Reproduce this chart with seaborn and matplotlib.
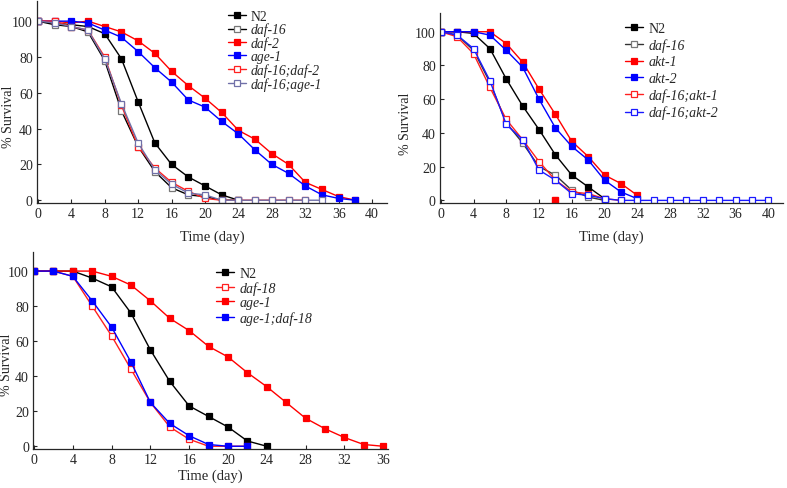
import pandas as pd
import numpy as np
import matplotlib
matplotlib.use("Agg")
import matplotlib.pyplot as plt
import seaborn as sns

# panel A
a_days = [0, 2, 4, 6, 8, 10, 12, 14, 16, 18, 20, 22, 24, 26, 28, 30, 32, 34, 36, 38]
a_n2 = [100, 99, 98, 97, 93, 79, 55, 32, 20, 13, 8, 3, 0]
a_daf16 = [100, 98, 97, 94, 78, 50, 30, 16, 7, 3, 2, 0, 0]
a_daf2 = [100, 100, 99, 100, 97, 94, 89, 82, 72, 64, 57, 49, 39, 34, 26, 20, 10, 6, 2, 0]
a_age1 = [100, 100, 100, 99, 95, 91, 83, 74, 66, 56, 52, 44, 37, 28, 20, 15, 8, 3, 1, 0]
a_daf16_daf2 = [100, 100, 97, 95, 80, 53, 30, 18, 10, 5, 1, 0, 0, 0, 0, 0, 0]
a_daf16_age1 = [100, 99, 97, 95, 79, 54, 32, 17, 9, 4, 3, 0, 0, 0, 0, 0, 0, 0]

# panel B
b_days = [0, 2, 4, 6, 8, 10, 12, 14, 16, 18, 20, 22, 24, 26, 28, 30, 32, 34, 36, 38, 40]
b_n2 = [100, 100, 99, 90, 72, 56, 42, 27, 15, 8, 1]
b_daf16 = [100, 98, 89, 70, 46, 34, 20, 15, 6, 2, 0]
b_akt1 = [100, 100, 100, 100, 93, 82, 66, 51, 35, 26, 15, 10, 3]
b_akt2 = [100, 100, 100, 98, 89, 79, 60, 43, 32, 24, 12, 5, 1]
b_daf16_akt1 = [100, 97, 87, 67, 48, 36, 23, 12, 5, 4, 1, 0]
b_daf16_akt2 = [100, 98, 90, 71, 45, 36, 18, 12, 4, 3, 1, 0, 0, 0, 0, 0, 0, 0, 0, 0, 0]
b_akt1_stray = (14, 0)

# panel C
c_days = [0, 2, 4, 6, 8, 10, 12, 14, 16, 18, 20, 22, 24, 26, 28, 30, 32, 34, 36]
c_n2 = [100, 100, 100, 96, 91, 76, 55, 37, 23, 17, 11, 3, 0]
c_daf18 = [100, 100, 97, 80, 63, 44, 25, 11, 4, 0, 0, 0]
c_age1 = [100, 100, 100, 100, 97, 92, 83, 73, 66, 57, 51, 42, 34, 25, 16, 10, 5, 1, 0]
c_age1_daf18 = [100, 100, 97, 83, 68, 48, 25, 13, 6, 1, 0, 0]

sns.set_style("ticks")
plt.rcParams['font.family'] = ['Liberation Serif', 'DejaVu Serif']

fig = plt.figure(figsize=(7.87, 4.89), dpi=100)
axA = fig.add_axes([0.047, 0.583, 0.445, 0.412])
axB = fig.add_axes([0.559, 0.583, 0.436, 0.388])
axC = fig.add_axes([0.042, 0.080, 0.451, 0.403])


def draw(ax, days, vals, label, color, filled=True, mec=None, lc=None):
    df = pd.DataFrame({"day": days[:len(vals)], "surv": vals})
    sns.lineplot(data=df, x="day", y="surv", ax=ax, color=lc or color,
                 marker="s", markersize=4.6, linewidth=1.0,
                 markerfacecolor=color if filled else "white",
                 markeredgecolor=mec or color, markeredgewidth=0.9,
                 label=label)


def finish(ax, xmax, xticks, loc, ylab_x, ylab_y, xpad, lspace, fs):
    ax.set_xlim(-0.1, xmax)
    ax.set_ylim(-1.5, 111)
    ax.set_xticks(xticks)
    ax.set_yticks([0, 20, 40, 60, 80, 100])
    ax.tick_params(labelsize=10, length=3, width=0.8, pad=3, direction="in")
    ax.set_xlabel("Time (day)", fontsize=10.5, labelpad=xpad)
    ax.set_ylabel("% Survival", fontsize=10)
    ax.yaxis.set_label_coords(ylab_x, ylab_y)
    for s in ["top", "right"]:
        ax.spines[s].set_visible(False)
    for s in ["left", "bottom"]:
        ax.spines[s].set_linewidth(0.9)
    leg = ax.legend(loc="upper left", bbox_to_anchor=loc, frameon=False,
                    fontsize=fs, labelspacing=lspace, handlelength=1.3,
                    handletextpad=0.4, borderpad=0, borderaxespad=0)
    for t in leg.get_texts():
        if t.get_text() != "N2":
            t.set_style("italic")


draw(axA, a_days, a_n2, "N2", "black")
draw(axA, a_days, a_daf16, "daf-16", "#888888", filled=False, lc="black", mec="#777777")
draw(axA, a_days, a_daf2, "daf-2", "#ff0000")
draw(axA, a_days, a_age1, "age-1", "#0000ff")
draw(axA, a_days, a_daf16_daf2, "daf-16;daf-2", "#ff2020", filled=False)
draw(axA, a_days, a_daf16_age1, "daf-16;age-1", "#7070a8", filled=False)
finish(axA, 41.8, range(0, 41, 4), (0.545, 0.96), -0.062, 0.43, 7, 0.0, 9.8)

draw(axB, b_days, b_n2, "N2", "black")
draw(axB, b_days, b_daf16, "daf-16", "#777777", filled=False, lc="#333333")
draw(axB, b_days, b_akt1, "akt-1", "#ff0000")
draw(axB, b_days, b_akt2, "akt-2", "#0000ff")
draw(axB, b_days, b_daf16_akt1, "daf-16;akt-1", "#ff2020", filled=False)
draw(axB, b_days, b_daf16_akt2, "daf-16;akt-2", "#1a1aff", filled=False)
axB.plot([b_akt1_stray[0]], [b_akt1_stray[1]], "s", color="#ff0000", ms=4.6)
finish(axB, 41.8, range(0, 41, 4), (0.54, 0.955), -0.082, 0.42, 7, 0.25, 10)

draw(axC, c_days, c_n2, "N2", "black")
draw(axC, c_days, c_daf18, "daf-18", "#ff2020", filled=False)
draw(axC, c_days, c_age1, "age-1", "#ff0000")
draw(axC, c_days, c_age1_daf18, "age-1;daf-18", "#0000ff")
finish(axC, 36.5, range(0, 37, 4), (0.515, 0.924), -0.056, 0.43, 2, 0.1, 10)

fig.savefig("out.png", dpi=100)
